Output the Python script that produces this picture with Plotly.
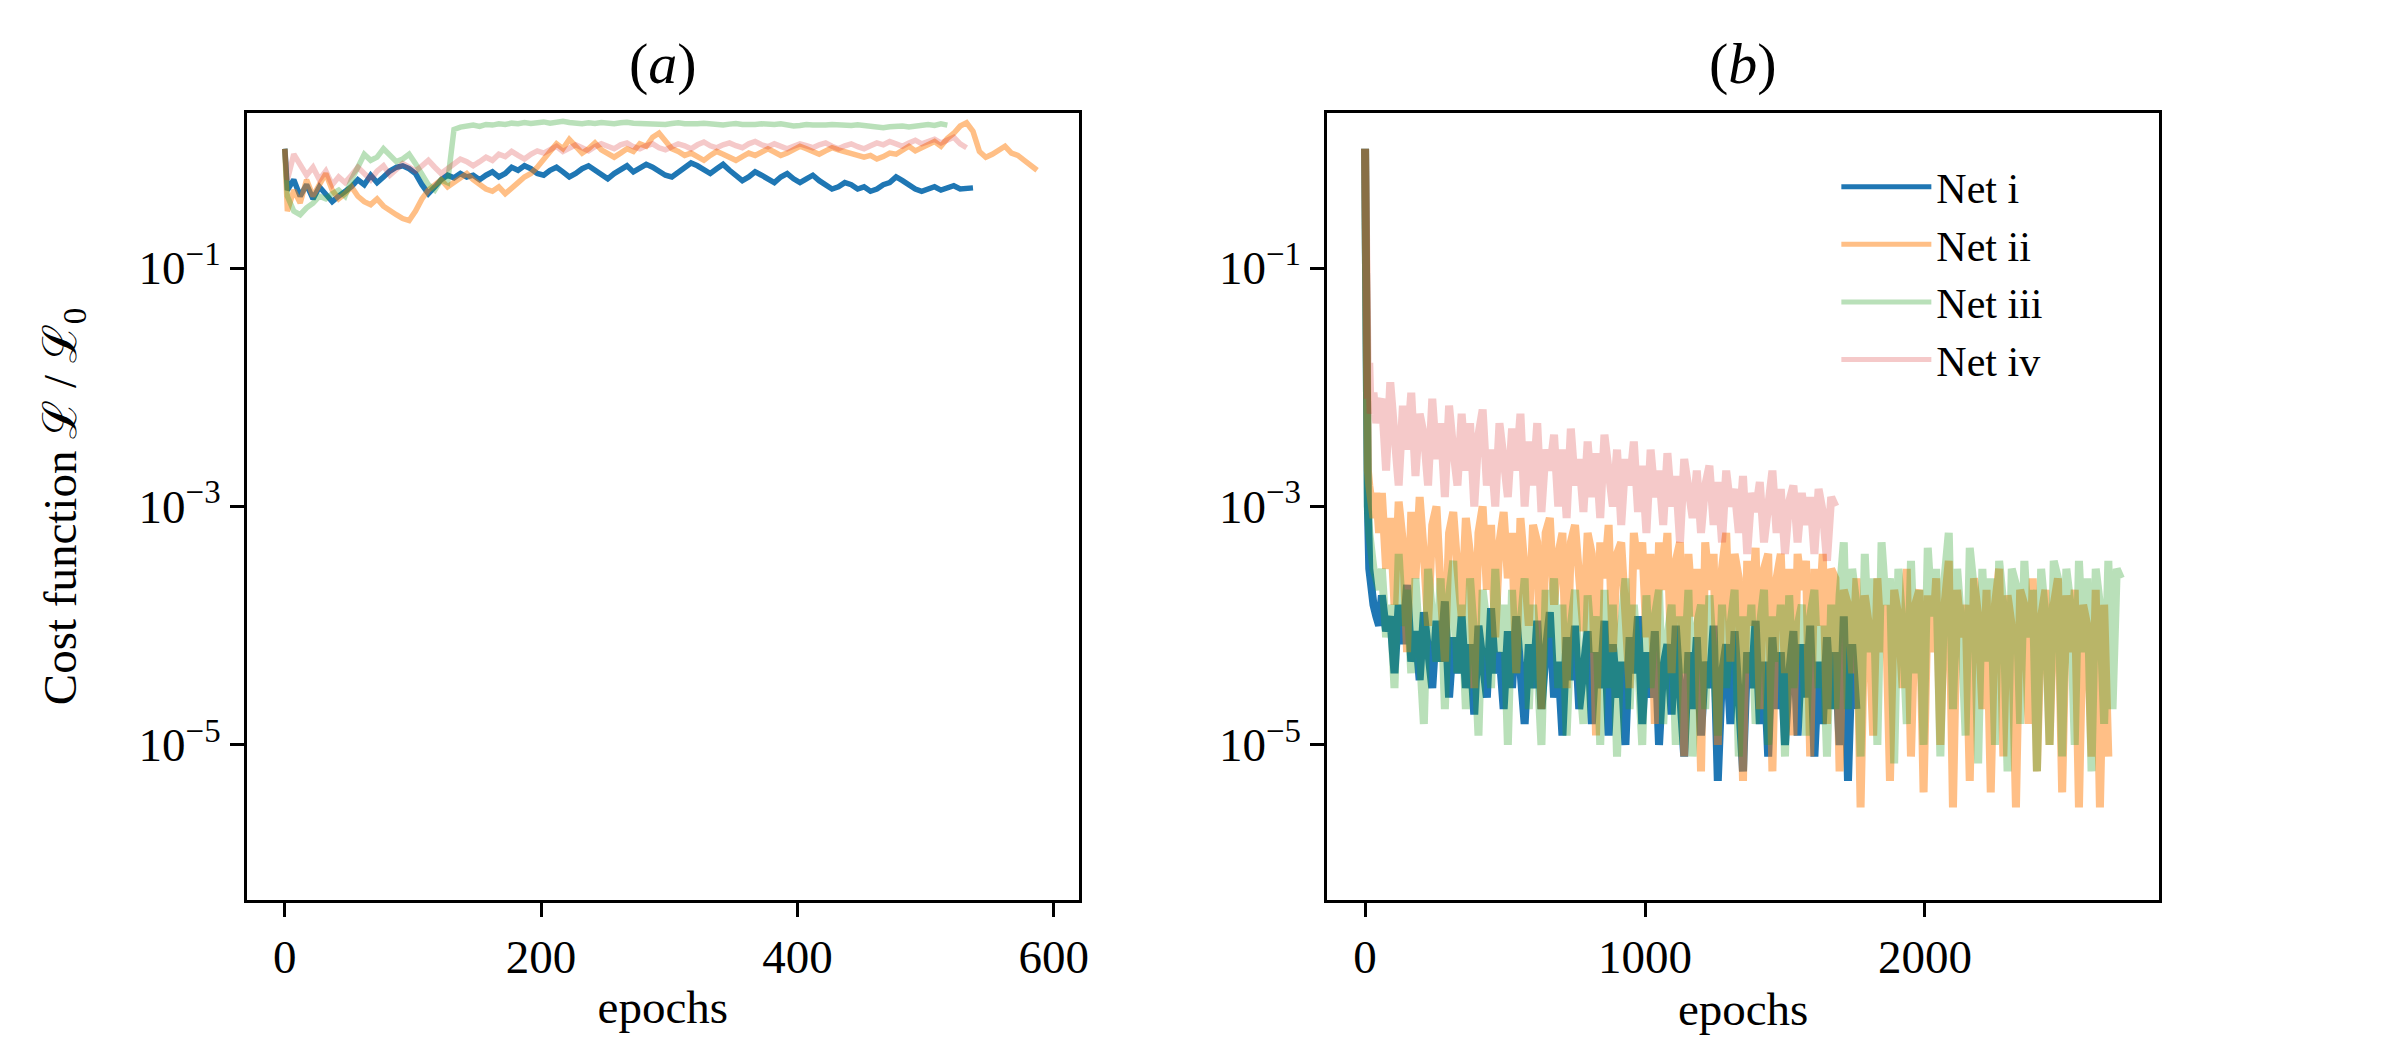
import plotly.graph_objects as go
from plotly.subplots import make_subplots

# cost L/L0 per net, panel (a): first value at epoch 0, then every 5 epochs from epoch 2
a_net_i = [1.0,
    0.45, 0.55, 0.40, 0.50, 0.38, 0.48, 0.42, 0.36, 0.40, 0.44,
    0.48, 0.55, 0.50, 0.60, 0.52, 0.58, 0.65, 0.70, 0.72, 0.68,
    0.62, 0.50, 0.42, 0.48, 0.55, 0.60, 0.57, 0.62, 0.58, 0.60,
    0.55, 0.60, 0.64, 0.58, 0.62, 0.70, 0.66, 0.72, 0.68, 0.62,
    0.60, 0.66, 0.70, 0.64, 0.58, 0.62, 0.68, 0.72, 0.66, 0.60,
    0.56, 0.62, 0.66, 0.72, 0.64, 0.68, 0.74, 0.70, 0.64, 0.60,
    0.58, 0.64, 0.70, 0.76, 0.72, 0.66, 0.62, 0.68, 0.74, 0.66,
    0.60, 0.54, 0.58, 0.64, 0.60, 0.56, 0.52, 0.58, 0.62, 0.56,
    0.52, 0.56, 0.60, 0.54, 0.50, 0.46, 0.48, 0.52, 0.50, 0.46,
    0.48, 0.44, 0.46, 0.50, 0.52, 0.58, 0.54, 0.50, 0.46, 0.44,
    0.46, 0.48, 0.45, 0.47, 0.49, 0.46, 0.47, 0.47]
a_net_ii = [1.0,
    0.30, 0.45, 0.35, 0.55, 0.40, 0.50, 0.62, 0.45, 0.38, 0.42,
    0.48, 0.40, 0.36, 0.34, 0.38, 0.33, 0.30, 0.28, 0.26, 0.25,
    0.30, 0.38, 0.45, 0.50, 0.55, 0.48, 0.52, 0.58, 0.62, 0.55,
    0.50, 0.46, 0.44, 0.48, 0.42, 0.46, 0.52, 0.58, 0.62, 0.70,
    0.80, 0.95, 1.10, 1.00, 1.20, 1.05, 0.92, 1.00, 1.12, 0.98,
    0.90, 0.85, 0.92, 1.00, 0.95, 1.10, 1.05, 1.25, 1.35, 1.15,
    1.00, 0.95, 0.88, 0.92, 0.85, 0.80, 0.88, 0.95, 0.90, 0.84,
    0.80, 0.86, 0.92, 0.88, 0.95, 1.00, 0.94, 0.88, 0.92, 0.98,
    1.05, 1.00, 0.95, 0.90, 0.96, 1.02, 0.98, 0.94, 0.90, 0.88,
    0.85, 0.88, 0.82, 0.86, 0.92, 0.90, 0.98, 1.05, 0.96, 1.02,
    1.08, 1.15, 1.05, 1.22, 1.35, 1.55, 1.65, 1.40, 0.95, 0.85,
    0.90, 0.98, 1.05, 0.92, 0.88, 0.80, 0.72, 0.66]
a_net_iii = [1.0,
    0.40, 0.30, 0.28, 0.32, 0.35, 0.40, 0.38, 0.42, 0.45, 0.40,
    0.55, 0.70, 0.90, 0.80, 0.85, 1.00, 0.88, 0.78, 0.82, 0.90,
    0.75, 0.60, 0.50, 0.45, 0.55, 0.52,
    1.45, 1.52, 1.55, 1.58, 1.54, 1.60, 1.58, 1.62, 1.60, 1.64,
    1.62, 1.66, 1.63, 1.65, 1.68, 1.64, 1.66, 1.70, 1.66, 1.64,
    1.62, 1.65, 1.63, 1.66, 1.64, 1.62, 1.65, 1.67, 1.64, 1.63,
    1.65, 1.64, 1.62, 1.60, 1.63, 1.65, 1.62, 1.60, 1.62, 1.64,
    1.62, 1.60, 1.58, 1.61, 1.63, 1.60, 1.58, 1.60, 1.62, 1.59,
    1.60, 1.62, 1.58, 1.55, 1.57, 1.60, 1.58, 1.56, 1.58, 1.60,
    1.58, 1.55, 1.57, 1.59, 1.56, 1.54, 1.52, 1.50, 1.53, 1.56,
    1.55, 1.52, 1.55, 1.58, 1.60, 1.57, 1.62, 1.58]
a_net_iv = [1.0,
    0.55, 0.90, 0.75, 0.60, 0.70, 0.55, 0.65, 0.50, 0.58, 0.52,
    0.60, 0.70, 0.62, 0.55, 0.65, 0.72, 0.60, 0.68, 0.75, 0.70,
    0.65, 0.72, 0.80, 0.70, 0.62, 0.68, 0.75, 0.82, 0.78, 0.72,
    0.78, 0.85, 0.80, 0.90, 0.86, 0.95, 0.88, 0.82, 0.90, 0.96,
    0.92, 0.98, 1.05, 0.95, 1.00, 1.08, 1.02, 0.96, 1.04, 1.10,
    1.05, 1.00, 1.08, 1.12, 1.04, 1.00, 1.06, 1.10, 1.02, 0.98,
    1.04, 1.10, 1.06, 1.00, 1.08, 1.14, 1.06, 1.02, 1.08, 1.12,
    1.06, 1.02, 1.10, 1.15, 1.08, 1.04, 1.10, 1.06, 1.00, 1.05,
    1.10, 1.06, 1.02, 1.08, 1.12, 1.05, 1.00, 1.06, 1.10, 1.04,
    1.00, 1.06, 1.12, 1.08, 1.15, 1.10, 1.05, 1.12, 1.18, 1.10,
    1.15, 1.20, 1.12, 1.18, 1.25, 1.10, 1.02]

# panel (b): epochs 0, 3, 6, 10, 15, 20, 30, 40, 50, then every 15 epochs from 60
b_head_epochs = [0, 3, 6, 10, 15, 20, 30, 40, 50]
b_net_i = [1.0, 2e-2, 3e-3, 1e-3, 3e-4, 2e-4, 1.5e-4, 1.2e-4, 1e-4,
    1.8e-4, 9e-5, 1.2e-4, 4e-5, 1.5e-4, 7e-5, 2.2e-4, 5e-5, 9e-5, 3.5e-5,
    1.3e-4, 6e-5, 3e-5, 1.1e-4, 5e-5, 1.6e-4, 2.5e-5, 8e-5, 4e-5, 1.2e-4,
    3e-5, 7e-5, 1.8e-5, 1e-4, 5e-5, 2.5e-5, 1.4e-4, 4e-5, 6e-5, 2e-5,
    9e-5, 3e-5, 1.2e-4, 4.5e-5, 1.5e-5, 7e-5, 3e-5, 1.1e-4, 2e-5, 6e-5,
    1.3e-4, 2.5e-5, 5e-5, 1.2e-5, 8e-5, 3.5e-5, 1e-4, 2e-5, 4e-5, 9e-5,
    1.5e-5, 6e-5, 3e-5, 1.1e-4, 1.2e-5, 7e-5, 2.5e-5, 5e-5, 1e-5, 8e-5,
    4e-5, 1.2e-4, 1.5e-5, 6e-5, 2.5e-5, 9e-5, 1e-5, 4.5e-5, 7e-5, 1.8e-5,
    1e-4, 3e-5, 8e-6, 6e-5, 2e-5, 8e-5, 1.2e-5, 5e-5, 3e-5, 1e-4,
    5e-6, 4e-5, 7e-5, 1.5e-5, 9e-5, 2.5e-5, 6e-6, 6e-5, 3e-5, 1.1e-4,
    1.5e-5, 5e-5, 8e-6, 8e-5, 2e-5, 6e-5, 1e-5, 4e-5, 9e-5, 1.2e-5,
    7e-5, 2.5e-5, 1e-4, 8e-6, 5e-5, 1.5e-5, 8e-5, 2e-5, 6e-5, 1e-5,
    1.2e-4, 5e-6, 7e-5, 2e-5]
b_net_ii = [1.0, 3e-2, 5e-3, 2e-3, 1.5e-3, 1.2e-3, 8e-4, 1.3e-3, 6e-4,
    1.3e-3, 3e-4, 8e-4, 1.5e-4, 1.1e-3, 5e-4, 6e-5, 9e-4, 2.5e-4, 1.2e-3,
    4e-4, 1e-4, 7e-4, 1e-3, 2e-4, 5e-5, 6e-4, 9e-4, 3e-4, 1.2e-4,
    8e-4, 4e-4, 3e-5, 6e-4, 1e-3, 2e-4, 7e-4, 8e-5, 5e-4, 9e-4,
    2.5e-4, 6e-4, 4e-5, 8e-4, 3e-4, 1e-4, 7e-4, 5e-4, 2e-5, 6e-4,
    8e-4, 1.5e-4, 4e-4, 6e-4, 3e-5, 5e-4, 7e-4, 2e-4, 9e-5, 6e-4,
    4e-4, 1.2e-5, 5e-4, 2.5e-4, 7e-4, 6e-5, 4e-4, 5e-4, 1.5e-4, 3e-5,
    6e-4, 3e-4, 5e-4, 8e-5, 4e-4, 1.5e-5, 5e-4, 2e-4, 6e-4, 4e-5,
    3.5e-4, 5e-4, 8e-6, 4e-4, 1.2e-4, 3e-4, 6e-6, 5e-4, 2e-4, 4e-4,
    1e-5, 3e-4, 6e-4, 5e-5, 4e-4, 2.5e-4, 5e-6, 3.5e-4, 1e-4, 4.5e-4,
    2e-5, 3e-4, 4e-4, 6e-6, 2.5e-4, 4e-4, 4e-5, 3e-4, 1.2e-5, 4e-4,
    2e-4, 3.5e-4, 8e-6, 3e-4, 1e-4, 4e-4, 1.5e-5, 3e-4, 2.5e-4, 6e-6,
    2e-4, 1.5e-4, 4e-5, 2.5e-4, 3e-6, 1.8e-4, 1e-4, 1.2e-5, 2.5e-4, 6e-5,
    1.5e-4, 5e-6, 2e-4, 1.2e-4, 3e-5, 3e-4, 8e-6, 1.5e-4, 2e-4, 4e-6,
    1.8e-4, 6e-5, 2.5e-4, 1e-5, 1.5e-4, 3.5e-4, 3e-6, 2e-4, 8e-5, 1.5e-4,
    5e-6, 2.5e-4, 1.2e-4, 2e-5, 2e-4, 4e-6, 1.5e-4, 3e-4, 8e-6, 1.8e-4,
    1e-4, 3e-6, 2e-4, 1.5e-4, 1.5e-5, 2.5e-4, 6e-6, 1.2e-4, 2e-4, 1e-5,
    1.5e-4, 2.5e-4, 4e-6, 1.8e-4, 6e-5, 2e-4, 3e-6, 1.5e-4, 1e-4, 8e-6,
    2e-4, 3e-6, 1.5e-4, 8e-6]
b_net_iii = [1.0, 2e-2, 3e-3, 1e-3, 6e-4, 4e-4, 3e-4, 2.5e-4, 2e-4,
    3e-4, 8e-5, 1.5e-4, 3e-5, 4e-4, 1e-4, 2e-4, 4e-5, 2.5e-4, 6e-5,
    1.5e-5, 3e-4, 1.2e-4, 5e-5, 2.5e-4, 2e-5, 1.8e-4, 3.5e-4, 4e-5, 1.5e-4,
    2e-5, 2.5e-4, 8e-5, 1.2e-5, 2e-4, 1e-4, 3e-5, 3e-4, 6e-5, 1.5e-4,
    1e-5, 2e-4, 4e-5, 1.2e-4, 2.5e-4, 2e-5, 1.5e-4, 5e-5, 1e-5, 2e-4,
    8e-5, 2.5e-4, 3e-5, 1.5e-4, 1.2e-5, 1e-4, 2e-4, 4e-5, 1.5e-5, 1.8e-4,
    6e-5, 1.2e-4, 1e-5, 2e-4, 3e-5, 1.5e-4, 8e-6, 1e-4, 2.5e-4, 2e-5,
    1.5e-4, 5e-5, 1e-5, 1.8e-4, 3e-5, 1.2e-4, 2e-4, 1.5e-5, 8e-5, 1.5e-4,
    1e-5, 1.2e-4, 4e-5, 2e-4, 8e-6, 1e-4, 1.5e-4, 2e-5, 1.8e-4, 5e-5,
    1.2e-5, 1.5e-4, 3e-5, 1e-4, 2e-4, 8e-6, 1.2e-4, 4e-5, 1.5e-4, 1.5e-5,
    1e-4, 2e-4, 1e-5, 1.2e-4, 5e-5, 1.5e-4, 8e-6, 1.8e-4, 3e-5, 1e-4,
    1.5e-4, 1.2e-5, 1.2e-4, 2e-4, 3e-5, 1e-4, 8e-6, 1.5e-4, 2e-5, 1.8e-4,
    5e-4, 2e-5, 3e-4, 1.5e-4, 8e-6, 4e-4, 6e-5, 2.5e-4, 1e-5, 5e-4,
    1.5e-4, 2.5e-4, 7e-6, 3e-4, 1e-4, 1.5e-5, 3.5e-4, 4e-5, 2e-4, 1e-5,
    4.5e-4, 1.2e-4, 3e-4, 8e-6, 2.5e-4, 6e-4, 2e-5, 3e-4, 1e-4, 1.2e-5,
    4.5e-4, 2e-4, 7e-6, 3e-4, 5e-5, 2.5e-4, 1e-5, 3.5e-4, 1.5e-4, 6e-6,
    3e-4, 2.2e-4, 1.5e-5, 3.5e-4, 8e-5, 2e-4, 6e-6, 3e-4, 1.2e-4, 1e-5,
    3.5e-4, 2.5e-4, 8e-6, 3e-4, 1.5e-4, 1e-5, 3.5e-4, 6e-5, 2.5e-4, 6e-6,
    3e-4, 1.5e-4, 1.5e-5, 3.5e-4, 2e-5, 3e-4, 2.5e-4]
b_net_iv = [1.0, 6e-2, 1.5e-2, 8e-3, 1.6e-2, 6e-3, 9e-3, 5e-3, 7e-3,
    8e-3, 2e-3, 1.1e-2, 4e-3, 1.5e-3, 7e-3, 3e-3, 9e-3, 1.8e-3, 6e-3,
    4e-3, 1.5e-3, 8e-3, 2.5e-3, 5e-3, 1.2e-3, 7e-3, 3e-3, 1.5e-3, 6e-3,
    2e-3, 5e-3, 1e-3, 4e-3, 6.5e-3, 1.5e-3, 3e-3, 1e-3, 5e-3, 2.5e-3,
    1.2e-3, 4.5e-3, 2e-3, 6e-3, 1e-3, 3.5e-3, 1.5e-3, 5e-3, 9e-4, 3e-3,
    2e-3, 4e-3, 1e-3, 3e-3, 8e-4, 4.5e-3, 1.5e-3, 2.5e-3, 9e-4, 3.5e-3,
    1.2e-3, 2.8e-3, 8e-4, 4e-3, 1.8e-3, 1e-3, 3e-3, 7e-4, 2.5e-3, 1.5e-3,
    3.5e-3, 9e-4, 2.2e-3, 6e-4, 3e-3, 1.2e-3, 2e-3, 7e-4, 2.8e-3, 1e-3,
    1.8e-3, 5e-4, 2.5e-3, 1.2e-3, 8e-4, 2e-3, 6e-4, 1.5e-3, 2.2e-3, 7e-4,
    1.6e-3, 5e-4, 2e-3, 1e-3, 1.4e-3, 6e-4, 1.8e-3, 4e-4, 1.3e-3, 9e-4,
    1.6e-3, 5e-4, 1.2e-3, 2e-3, 6e-4, 1.4e-3, 4e-4, 1.1e-3, 1.5e-3, 5e-4,
    1.3e-3, 7e-4, 1.2e-3, 4e-4, 1.4e-3, 9e-4, 3.5e-4, 1.2e-3, 1e-3]

net_names = ["Net i", "Net ii", "Net iii", "Net iv"]
net_colors = ["rgba(31,119,180,1)", "rgba(255,127,14,0.5)",
              "rgba(44,160,44,0.33)", "rgba(214,39,40,0.25)"]
y_tickvals = [1e-1, 1e-3, 1e-5]
y_ticktext = ["10<sup>\u22121</sup>", "10<sup>\u22123</sup>", "10<sup>\u22125</sup>"]


def epochs_a(vals):
    return [0] + [2 + 5 * k for k in range(len(vals) - 1)]


def epochs_b(vals):
    n = len(vals) - len(b_head_epochs)
    return b_head_epochs + [60 + 15 * k for k in range(n)]


FONT = "Liberation Serif, Times New Roman, serif"

fig = make_subplots(rows=1, cols=2, horizontal_spacing=0.1)

for vals, name, col in zip([a_net_i, a_net_ii, a_net_iii, a_net_iv], net_names, net_colors):
    fig.add_trace(go.Scatter(x=epochs_a(vals), y=vals, mode="lines", name=name,
                             line=dict(color=col, width=5.5), legendgroup=name,
                             showlegend=False), row=1, col=1)

# the per-epoch noise in (b) is very dense, a wider stroke fills the band
for vals, name, col in zip([b_net_i, b_net_ii, b_net_iii, b_net_iv], net_names, net_colors):
    fig.add_trace(go.Scatter(x=epochs_b(vals), y=vals, mode="lines", name=name,
                             line=dict(color=col, width=8), legendgroup=name,
                             showlegend=False), row=1, col=2)

# legend entries with the normal line width
for name, col in zip(net_names, net_colors):
    fig.add_trace(go.Scatter(x=[None], y=[None], mode="lines", name=name,
                             line=dict(color=col, width=5), legendgroup=name,
                             showlegend=True), row=1, col=2)

axis_style = dict(showline=True, linecolor="black", linewidth=3, mirror=True,
                  ticks="outside", ticklen=14, tickwidth=3, tickcolor="black",
                  showgrid=False, zeroline=False,
                  tickfont=dict(family=FONT, size=47, color="black"))

fig.update_xaxes(**axis_style)
fig.update_yaxes(**axis_style)

fig.update_xaxes(domain=[0.1, 0.448], range=[-29.5, 619.5], tickvals=[0, 200, 400, 600],
                 title=dict(text="epochs", font=dict(family=FONT, size=47, color="black"),
                            standoff=8), row=1, col=1)
fig.update_xaxes(domain=[0.552, 0.9], range=[-135, 2836], tickvals=[0, 1000, 2000],
                 title=dict(text="epochs", font=dict(family=FONT, size=47, color="black"),
                            standoff=8), row=1, col=2)
fig.update_yaxes(type="log", range=[-6.3, 0.3], domain=[0.1505, 0.9],
                 tickvals=y_tickvals, ticktext=y_ticktext)
fig.update_yaxes(title=dict(text="Cost function \u2112 / \u2112<sub>0</sub>",
                            font=dict(family=FONT, size=47, color="black"), standoff=48),
                 row=1, col=1)

for label, xc in [("(<i>a</i>)", 0.274), ("(<i>b</i>)", 0.726)]:
    fig.add_annotation(text=label, x=xc, y=0.947, xref="paper", yref="paper",
                       xanchor="center", yanchor="middle", showarrow=False,
                       font=dict(family=FONT, size=58, color="black"))

fig.update_layout(
    width=2400, height=1050,
    margin=dict(l=0, r=0, t=0, b=0),
    paper_bgcolor="white", plot_bgcolor="white",
    showlegend=True,
    legend=dict(x=0.765, y=0.862, xanchor="left", yanchor="top",
                bgcolor="rgba(0,0,0,0)", itemwidth=90, tracegroupgap=0,
                font=dict(family=FONT, size=42, color="black")),
)

fig.write_html("out.html")
